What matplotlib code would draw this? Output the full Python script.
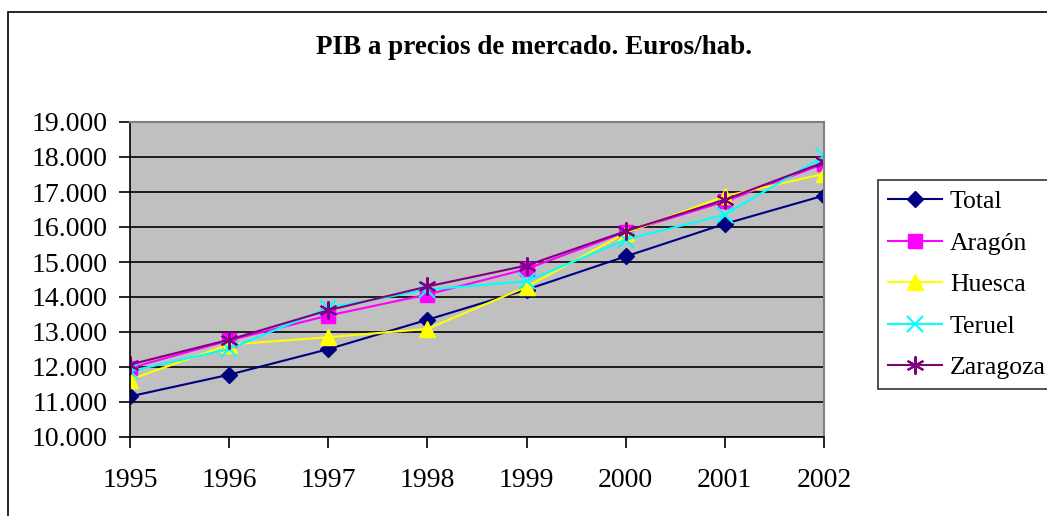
import matplotlib.pyplot as plt
from matplotlib.patches import Rectangle

# PIB a precios de mercado, euros por habitante
years = [1995, 1996, 1997, 1998, 1999, 2000, 2001, 2002]
total = [11160, 11780, 12510, 13350, 14210, 15160, 16090, 16900]
aragon = [11970, 12760, 13470, 14070, 14800, 15860, 16730, 17810]
huesca = [11640, 12640, 12850, 13090, 14290, 15830, 16880, 17520]
teruel = [11880, 12510, 13690, 14210, 14450, 15640, 16350, 18020]
zaragoza = [12070, 12780, 13620, 14300, 14900, 15880, 16780, 17850]

yticks = [10000, 11000, 12000, 13000, 14000, 15000, 16000, 17000, 18000, 19000]
ytick_labels = ['10.000', '11.000', '12.000', '13.000', '14.000',
                '15.000', '16.000', '17.000', '18.000', '19.000']

plt.rcParams['font.family'] = ['Liberation Serif', 'DejaVu Serif']

fig = plt.figure(figsize=(10.47, 5.16), dpi=100)
ax = fig.add_axes([130/1047, 1-437/516, (824-130)/1047, (437-122)/516])

# marco exterior del grafico
fig.patches.append(Rectangle((8/1047, -0.05), 1.1, 1-12/516+0.05,
                             transform=fig.transFigure, fill=False,
                             edgecolor='black', linewidth=1.2))

ax.set_facecolor('#C0C0C0')

ax.plot(years, total, color='#000080', marker='D', markersize=8, lw=1.5, label='Total')
ax.plot(years, aragon, color='#FF00FF', marker='s', markersize=10, lw=1.5, label='Aragón')
ax.plot(years, huesca, color='#FFFF00', marker='^', markersize=11, lw=1.5, label='Huesca')
ax.plot(years, teruel, color='#00FFFF', marker='x', markersize=11, mew=1.5, lw=1.5, label='Teruel')
ax.plot(years, zaragoza, color='#800080', marker=(6, 2, 0), markersize=13, mew=1.5, lw=1.5, label='Zaragoza')

ax.set_xlim(1995, 2002)
ax.set_ylim(10000, 19000)
ax.set_xticks(years)
ax.set_xticklabels([str(y) for y in years])
ax.set_yticks(yticks)
ax.set_yticklabels(ytick_labels)

ax.yaxis.grid(True, color='black', linewidth=1.2)
ax.set_axisbelow(True)
ax.tick_params(axis='both', direction='out', length=8, width=1.2, labelsize=20, color='black')
ax.tick_params(axis='y', pad=8)
ax.tick_params(axis='x', pad=14)

ax.spines['left'].set_color('black')
ax.spines['bottom'].set_color('black')
ax.spines['left'].set_linewidth(1.2)
ax.spines['bottom'].set_linewidth(1.2)
ax.spines['top'].set_color('#808080')
ax.spines['right'].set_color('#808080')
ax.spines['top'].set_linewidth(1.5)
ax.spines['right'].set_linewidth(1.5)

fig.text(534/1047, 1-48/516, 'PIB a precios de mercado. Euros/hab.',
         ha='center', va='center', fontsize=19.5, fontweight='bold')

leg = fig.legend(loc='upper left', bbox_to_anchor=(878/1047, 1-180/516),
                 fontsize=18.5, frameon=True, fancybox=False, edgecolor='black',
                 borderpad=0.4, labelspacing=0.72, handlelength=2.1,
                 handletextpad=0.3, borderaxespad=0)
leg.get_frame().set_linewidth(1.2)

fig.savefig('out.png', dpi=100)
